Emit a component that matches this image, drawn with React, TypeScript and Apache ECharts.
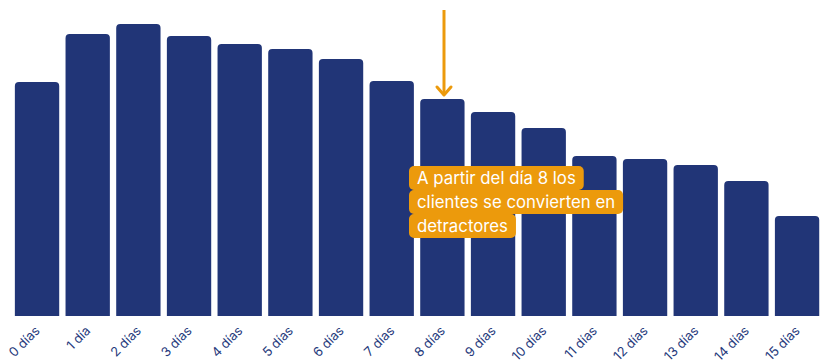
import React, { useEffect, useRef } from "react";
import * as echarts from "echarts";

const categories = [
  "0 días", "1 día", "2 días", "3 días", "4 días", "5 días", "6 días", "7 días",
  "8 días", "9 días", "10 días", "11 días", "12 días", "13 días", "14 días", "15 días",
];
const values = [234, 282, 292, 280, 272, 267, 257, 235, 217, 204, 188, 160, 157, 151, 135, 100];
const annotationLines = [
  "A partir del día 8 los",
  "clientes se convierten en",
  "detractores",
];

const NAVY = "#213577";
const ORANGE = "#ec9a0c";

export default function App() {
  const ref = useRef<HTMLDivElement>(null);
  useEffect(() => {
    document.body.style.margin = "0";
    if (!ref.current) return;
    const chart = echarts.init(ref.current, undefined, { renderer: "svg" });
    const lineY = [166, 190, 214];
    chart.setOption({
      animation: false,
      grid: {
        left: 11.7,
        width: 810.7,
        top: 24,
        bottom: 44,
        containLabel: false,
        outerBoundsMode: "none",
      },
      xAxis: {
        type: "category",
        data: categories,
        axisLine: { show: false },
        axisTick: { show: false },
        axisLabel: {
          rotate: 45,
          interval: 0,
          margin: 12,
          color: "#263a7c",
          fontSize: 13,
          fontFamily: "Inter",
        },
      },
      yAxis: {
        type: "value",
        min: 0,
        max: 292,
        show: false,
        splitLine: { show: false },
      },
      series: [
        {
          type: "bar",
          data: values,
          barCategoryGap: "12.5%",
          itemStyle: { color: NAVY, borderRadius: [4, 4, 0, 0] },
        },
      ],
      graphic: [
        {
          type: "line",
          shape: { x1: 444, y1: 10, x2: 444, y2: 95 },
          style: { stroke: ORANGE, lineWidth: 3 },
        },
        {
          type: "polyline",
          shape: { points: [[437, 87], [444, 95], [451, 87]] },
          style: { stroke: ORANGE, lineWidth: 3, fill: null, lineCap: "round", lineJoin: "round" },
        },
        ...annotationLines.map((t, i) => ({
          type: "text",
          x: 409,
          y: lineY[i],
          z: 10,
          style: {
            text: t,
            fill: "#ffffff",
            font: "16.8px Inter",
            backgroundColor: ORANGE,
            padding: [3, 8, 3, 8],
            borderRadius: 5,
            lineHeight: 18,
          },
        })),
      ],
    });
    return () => chart.dispose();
  }, []);
  return <div ref={ref} style={{ width: 821, height: 360 }} />;
}
